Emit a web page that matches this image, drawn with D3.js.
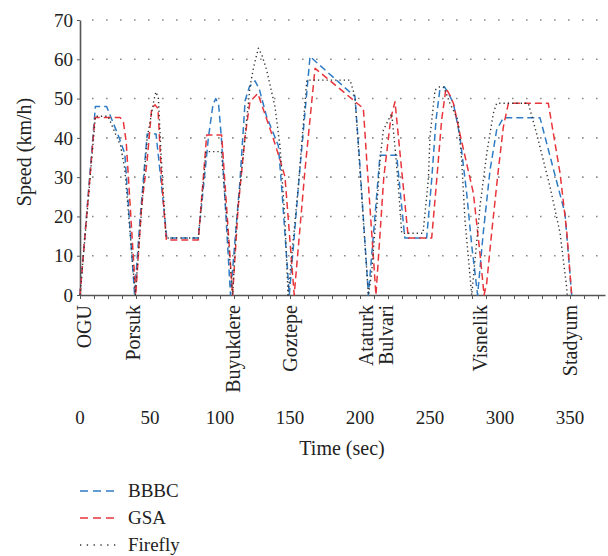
<!DOCTYPE html>
<html>
<head>
<meta charset="utf-8">
<script src="https://cdn.jsdelivr.net/npm/d3@7"></script>
<style>
  body { margin: 0; background: #fff; }
  text { font-family: "Liberation Serif", "DejaVu Serif", serif; fill: #222; }
</style>
</head>
<body>
<svg id="chart" width="608" height="556"></svg>
<script>
// speed profiles: [time (sec), speed (km/h)]
const bbbc = [
    [0,0],[11,48],[19,48],[28,40],[32,36],[39,0],
    [42.8,19],[48,41],[54.3,41],[58.3,27.6],[62,14.5],[84.5,14.5],[91.7,40],[95,48.5],[97,50],[99,48.5],[101,40],[107.5,0],
    [114.3,29.3],[118,49.6],[121,53],[125,54.5],[128,52.5],[133.3,45.4],[141.7,38],[144,27.6],[149.5,0],
    [157,31.8],[164.3,60.7],[196.4,50.5],[200,32.7],[206,0],
    [214.3,35.6],[226.2,35.6],[232,14.5],[247.6,14.5],[251.2,29.3],[254.3,44.5],[257,52.2],[260.3,53],[263,51.5],[266.7,48.8],[271.4,40.3],[276.2,25.9],[280,12],[284,0],
    [288,15.7],[292.9,31.8],[297.6,42],[302.4,45.1],[328.6,45.1],[346.4,20.8],[351.2,0]
];
const gsa = [
    [0,0],[10.7,45.2],[28.6,45.2],[31,44],[33,39],[39.8,0],
    [44,22.5],[48,34.4],[51.2,47.5],[53.6,48.4],[55.7,47.5],[58.3,29.3],[61.7,14],[84.5,14],[90.5,40.7],[101.2,40.7],[109,0],
    [113,22.5],[117.9,40.3],[121.4,49.2],[127,51.3],[137,41],[142.9,34.4],[146.4,30.1],[153,0],
    [160.7,31.8],[167.9,57.7],[202.4,47.5],[204.8,34.4],[211.4,0],
    [217,30],[222,45],[225,49.2],[234.5,14.5],[247.6,14.5],[251.2,14.5],[254.8,29.3],[258.3,44.5],[261.4,52.6],[264,51],[266.7,48.8],[271.4,41],[281,25.9],[285.7,10.6],[288.6,0],
    [290.5,3],[294,15.7],[298.8,31.8],[302.4,42.8],[306,48.8],[334.5,48.8],[342.9,31],[347.6,16.5],[351.2,0]
];
const firefly = [
    [0,0],[11,45.5],[20,45.5],[29,38],[32,32],[39.5,0],
    [44,22],[48,40],[51,46],[53,50],[54.3,51.7],[56,50],[58,35],[61.5,14.5],[84.5,14.5],[90,36.5],[101,36.5],[109,0],
    [111.9,19],[116.7,36],[121.4,53],[124,58],[127.4,62.8],[130,61],[133.3,57.3],[139.3,47.9],[142.9,37.7],[146.4,19],[148.6,0],
    [156,28],[162,54.7],[192.9,54.7],[196.4,50.5],[206,0],
    [208.3,5.6],[212,22.5],[214.3,34.4],[216.7,42],[222.6,46.2],[225,37.7],[227.4,27.6],[229.8,15.7],[245,15.7],[248.8,29.3],[250,40.3],[253.6,52.2],[257,53],[260,52.9],[264,49],[270,44.5],[272.6,34.4],[275,19],[279.8,0],
    [285.7,22.5],[290.5,36],[295.2,46.2],[297.6,48.8],[320.2,48.8],[326.2,41],[335.7,27.6],[342.9,15.8],[347.6,2],[348,0]
];

// station names and where they sit on the time axis
const stations = ["OGU", "Porsuk", "Buyukdere", "Goztepe", "Ataturk", "Bulvari", "Visnelik", "Stadyum"];
const stationTimes = [2.5, 38, 109.5, 150, 204, 218.5, 286, 350];

const xTickLabels = [0, 50, 100, 150, 200, 250, 300, 350];
const yTickLabels = [0, 10, 20, 30, 40, 50, 60, 70];

const seriesNames = ["BBBC", "GSA", "Firefly"];

const svg = d3.select("#chart");

const x = d3.scaleLinear().domain([0, 375]).range([80, 605]);
const y = d3.scaleLinear().domain([0, 70]).range([295, 20]);

// dotted grid lines
svg.append("g")
    .selectAll("line")
    .data(yTickLabels.filter(d => d > 0))
    .join("line")
    .attr("x1", x(0) + 4)
    .attr("x2", x(375))
    .attr("y1", d => y(d))
    .attr("y2", d => y(d))
    .attr("stroke", "#8a8a8a")
    .attr("stroke-width", 1.6)
    .attr("stroke-dasharray", "1.6,12.4")
    .attr("stroke-dashoffset", -8);

// axes
let xAxis = svg.append("g")
    .attr("transform", "translate(0," + y(0) + ")")
    .call(d3.axisBottom(x).tickValues(d3.range(0, 371, 10)).tickSize(4).tickSizeOuter(0).tickFormat(""));
let yAxis = svg.append("g")
    .attr("transform", "translate(" + x(0) + ",0)")
    .call(d3.axisLeft(y).tickValues(yTickLabels).tickSize(3).tickSizeOuter(0).tickFormat(""));
[xAxis, yAxis].forEach(g => {
    g.select(".domain").attr("stroke", "#555").attr("stroke-width", 1.6);
    g.selectAll(".tick line").attr("stroke", "#555").attr("stroke-width", 1);
});

svg.append("g")
    .selectAll("text")
    .data(yTickLabels)
    .join("text")
    .attr("x", x(0) - 7)
    .attr("y", d => y(d))
    .attr("dy", "0.35em")
    .attr("text-anchor", "end")
    .attr("font-size", 19)
    .text(d => d);

svg.append("g")
    .selectAll("text")
    .data(xTickLabels)
    .join("text")
    .attr("x", d => x(d))
    .attr("y", 424)
    .attr("text-anchor", "middle")
    .attr("font-size", 19)
    .text(d => d);

// station labels, rotated
svg.append("g")
    .selectAll("text")
    .data(stations)
    .join("text")
    .attr("transform", (d, i) => "translate(" + x(stationTimes[i]) + ",305) rotate(-90)")
    .attr("dy", "0.35em")
    .attr("text-anchor", "end")
    .attr("font-size", 20)
    .text(d => d);

// axis titles
svg.append("text")
    .attr("transform", "translate(31,152) rotate(-90)")
    .attr("text-anchor", "middle")
    .attr("font-size", 20)
    .text("Speed (km/h)");
svg.append("text")
    .attr("x", 342)
    .attr("y", 455)
    .attr("text-anchor", "middle")
    .attr("font-size", 20)
    .text("Time (sec)");

// lines
const styles = [
    {color: "#2f7cc4", dash: "7,4", width: 1.5},
    {color: "#e8353b", dash: "7,4", width: 1.5},
    {color: "#333", dash: "1.3,3", width: 1.4}
];
const allSeries = [bbbc, gsa, firefly];

const line = d3.line()
    .x(d => x(d[0]))
    .y(d => y(d[1]));

svg.append("g")
    .selectAll("path")
    .data(allSeries)
    .join("path")
    .attr("d", line)
    .attr("fill", "none")
    .attr("stroke", (d, i) => styles[i].color)
    .attr("stroke-width", (d, i) => styles[i].width)
    .attr("stroke-dasharray", (d, i) => styles[i].dash)
    .attr("stroke-linejoin", "round");

// legend
let legend = svg.append("g")
    .selectAll("g")
    .data(seriesNames)
    .join("g")
    .attr("transform", (d, i) => "translate(0," + (491 + i * 27) + ")");
legend.append("line")
    .attr("x1", 80)
    .attr("x2", 116)
    .attr("stroke", (d, i) => styles[i].color)
    .attr("stroke-width", (d, i) => styles[i].width)
    .attr("stroke-dasharray", (d, i) => i === 2 ? "1.3,5.5" : "8,5");
legend.append("text")
    .attr("x", 128)
    .attr("dy", "0.32em")
    .attr("font-size", 19)
    .text(d => d);
</script>
</body>
</html>
